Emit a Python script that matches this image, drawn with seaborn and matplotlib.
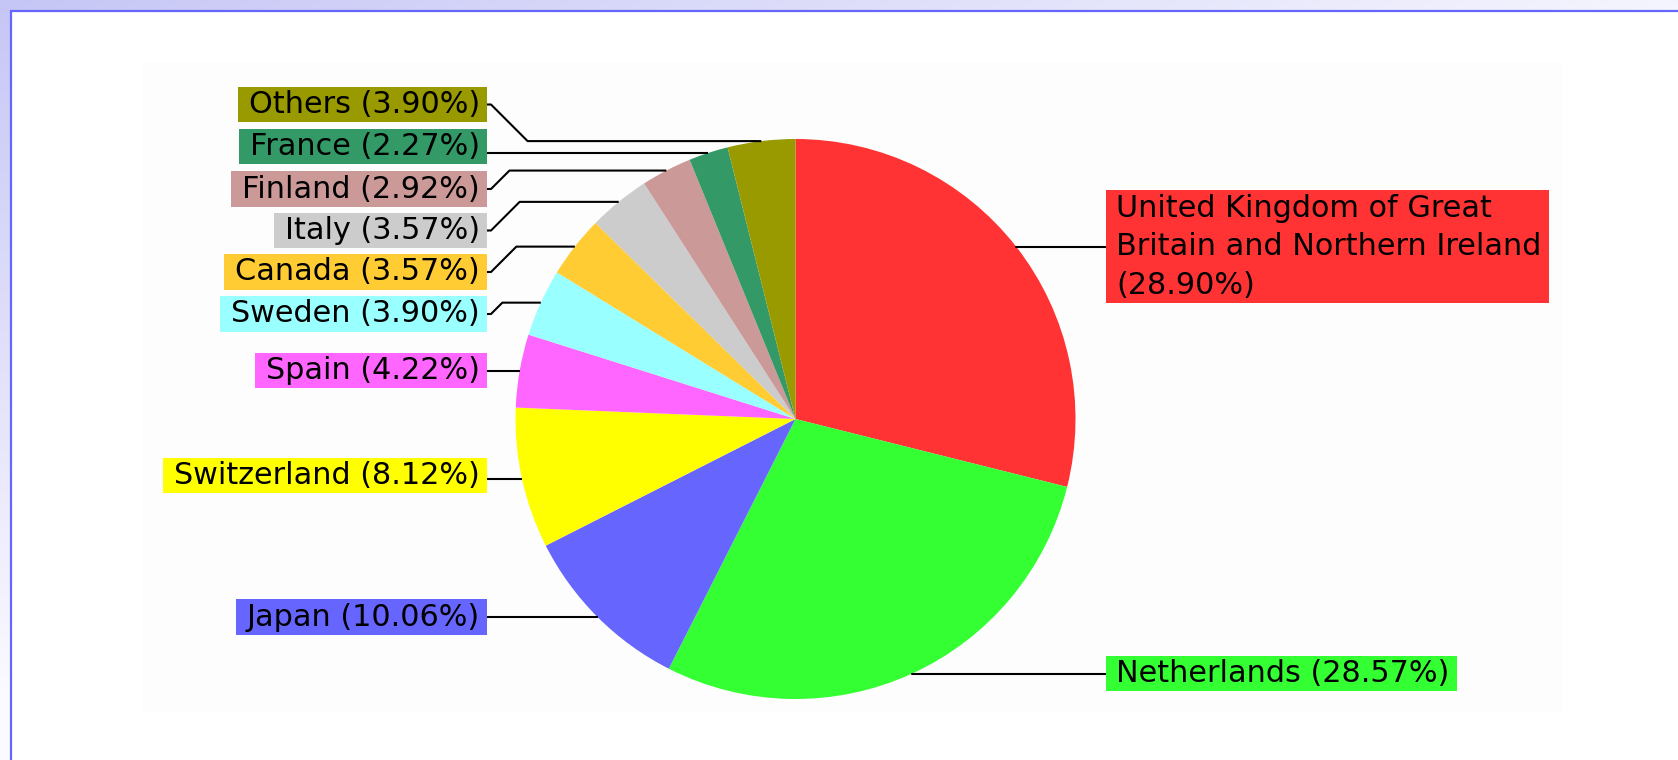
import textwrap
import numpy as np
import matplotlib
matplotlib.use("Agg")
import matplotlib.pyplot as plt
import seaborn as sns
from matplotlib.patches import Rectangle

# ---- data ----
countries = ["United Kingdom of Great Britain and Northern Ireland", "Netherlands", "Japan",
             "Switzerland", "Spain", "Sweden", "Canada", "Italy", "Finland", "France", "Others"]
shares = [28.90, 28.57, 10.06, 8.12, 4.22, 3.90, 3.57, 3.57, 2.92, 2.27, 3.90]
colors = ["#ff3333", "#33ff33", "#6666ff", "#ffff00", "#ff66ff", "#99ffff",
          "#ffcc33", "#cccccc", "#cc9999", "#339966", "#999900"]

# ---- layout (pixels) ----
W, H = 1678, 760
left_label_y = {"Japan": 617.0, "Switzerland": 475.5, "Spain": 370.5, "Sweden": 314.0,
                "Canada": 272.0, "Italy": 230.5, "Finland": 189.0, "France": 146.5,
                "Others": 104.5}

sns.set_theme(style="white")
plt.rcParams['font.family'] = ['DejaVu Sans']

fig = plt.figure(figsize=(W / 100, H / 100), dpi=100)
ax = fig.add_axes([0, 0, 1, 1])

# background gradient frame
yy, xx = np.mgrid[0:H, 0:W]
s = np.clip(xx / W * 0.9 + yy / H * 1.1, 0, 1)
c0 = np.array([198, 198, 246]) / 255
c1 = np.array([250, 250, 255]) / 255
img = c0 + (c1 - c0) * s[..., None]
ax.imshow(img, extent=(0, W, H, 0), zorder=0, interpolation='bilinear')
ax.add_patch(Rectangle((10.5, 10.5), W * 2, H * 2, facecolor='white',
                       edgecolor='#6666ff', lw=1.6, zorder=1))
ax.add_patch(Rectangle((142, 62), 1421, 651, facecolor='#fdfdfd',
                       edgecolor='none', zorder=1.5))

cx, cy, R = 795.5, 419.0, 280.0
wedges, _ = ax.pie(shares, colors=colors, startangle=-90, counterclock=True,
                   center=(cx, cy), radius=R, frame=True,
                   wedgeprops=dict(linewidth=0))

ax.set_xlim(0, W)
ax.set_ylim(H, 0)
ax.set_aspect('equal')
ax.axis('off')

fs = 21.8
left_edge = 487.0
right_edge = 1105.5
padL, padR, padV = 11.0, 7.0, 3.2
renderer = fig.canvas.get_renderer()
inv = ax.transData.inverted()

for w, name, val, col in zip(wedges, countries, shares, colors):
    w.set_zorder(2)
    mid = np.deg2rad((w.theta1 + w.theta2) / 2)
    axp = cx + R * np.cos(mid)
    ayp = cy + R * np.sin(mid)
    label = textwrap.fill(f"{name} ({val:.2f}%)", width=28)
    if np.cos(mid) < 0:
        ly = left_label_y[name]
        dy = ayp - ly
        if abs(dy) < 10:
            xs, ys = [left_edge, axp], [ayp, ayp]
        else:
            x1 = left_edge + 4
            x2 = x1 + abs(dy)
            xs, ys = [left_edge, x1, x2, axp], [ly, ly, ayp, ayp]
        ax.plot(xs, ys, color='black', lw=1.5, zorder=3, solid_capstyle='butt')
        t = ax.text(left_edge - padR, ly, label, ha='right', va='center', fontsize=fs,
                    color='black', zorder=5)
    else:
        ly = ayp
        ax.plot([axp, right_edge], [ayp, ayp], color='black', lw=1.5, zorder=3)
        t = ax.text(right_edge + padL, ly, label, ha='left', va='center', fontsize=fs,
                    color='black', zorder=5, linespacing=1.42)
    bb = t.get_window_extent(renderer)
    (dx0, dy0), (dx1, dy1) = inv.transform([[bb.x0, bb.y0], [bb.x1, bb.y1]])
    top, bot = min(dy0, dy1), max(dy0, dy1)
    ax.add_patch(Rectangle((dx0 - padL, top - padV), (dx1 - dx0) + padL + padR,
                           (bot - top) + 2 * padV, facecolor=col, edgecolor='none',
                           zorder=4))

fig.savefig("out.png", dpi=100)
